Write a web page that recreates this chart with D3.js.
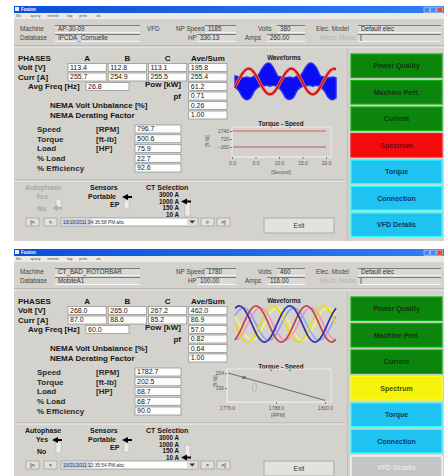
<!DOCTYPE html>
<html>
<head>
<meta charset="utf-8">
<script src="https://cdn.jsdelivr.net/npm/d3@7"></script>
<style>
  body { margin: 0; background: #fff; }
  svg { display: block; }
  text { font-family: "Liberation Sans", Arial, sans-serif; }
</style>
</head>
<body>
<div id="chart"></div>
<script>
// shared labels
const phaseCols = ["A", "B", "C", "Ave/Sum"];
const phaseRows = ["Volt [V]", "Curr [A]"];
const sumRows = ["Pow [kW]", "pf", "NEMA Volt Unbalance [%]", "NEMA Derating Factor"];
const motorRows = ["Speed", "Torque", "Load", "% Load", "% Efficiency"];
const motorUnits = ["[RPM]", "[ft-lb]", "[HP]", "", ""];
const buttonNames = ["Power Quality", "Machine Perf.", "Current", "Spectrum", "Torque", "Connection", "VFD Details"];
const ctOptions = ["3000 A", "1000 A", "150 A", "10 A"];
const menuItems = ["file", "query", "trends", "log", "print", "ok"];

// window 1 - VFD motor
const w1Header = ["AP-30-09", "IPCDA_Cornuelle", "1185", "330.13", "380", "260.00", "Default elec"];
const w1Volt = [113.4, 112.8, 113.1, 195.8];
const w1Curr = [255.7, 254.9, 255.5, 255.4];
const w1Freq = 26.8;
const w1Sum = [61.2, 0.71, 0.26, 1.00];
const w1Motor = [796.7, 500.6, 75.9, 22.7, 92.6];
const w1Buttons = ["green", "green", "green", "red", "cyan", "cyan", "cyan"];
const w1CurrHi = [0.3, 0.25, 0.2, 0.25, 0.2, 0.3, 0.35, 0.7, 0.95, 0.98, 0.7, 0.3, 0.25, 0.2, 0.25, 0.2, 0.3, 0.35, 0.7, 0.96, 0.97, 0.72, 0.3, 0.25, 0.2, 0.25, 0.2];
const w1CurrLo = [-0.3, -0.5, -0.85, -0.98, -0.88, -0.5, -0.3, -0.25, -0.2, -0.25, -0.2, -0.3, -0.5, -0.86, -0.97, -0.87, -0.48, -0.3, -0.25, -0.2, -0.25, -0.2, -0.3, -0.5, -0.85, -0.98, -0.88];
const w1VoltWave = [-0.29, 0.1, 0.46, 0.67, 0.67, 0.46, 0.1, -0.29, -0.59, -0.7, -0.59, -0.29, 0.1, 0.46, 0.67, 0.67, 0.46, 0.1, -0.29, -0.59, -0.7, -0.59, -0.29, 0.1, 0.46, 0.67, 0.67];
const w1TsTime = [0, 20];
const w1TsUpper = [1740, 1740];
const w1TsLower = [-300, -300];
const w1TsXTicks = [0, 5, 10, 15, 20];
const w1TsYTicks = [-300, 720, 1740];
const w1File = "10/10/2011 04:36:58 PM.abc";

// window 2 - broken rotor bar motor
const w2Header = ["CT_BAD_ROTORBAR", "MobileA1", "1780", "100.00", "460", "116.00", "Default elec"];
const w2Volt = [268.0, 265.0, 267.2, 462.0];
const w2Curr = [87.0, 88.6, 85.2, 86.9];
const w2Freq = 60.0;
const w2Sum = [57.0, 0.82, 0.64, 1.00];
const w2Motor = [1782.7, 202.5, 68.7, 68.7, 90.0];
const w2Buttons = ["green", "green", "green", "yellow", "cyan", "cyan", "gray"];
const w2VoltA = [-0.83, -0.48, 0, 0.48, 0.83, 0.95, 0.83, 0.48, 0, -0.48, -0.83, -0.95, -0.83, -0.48, 0, 0.48, 0.83, 0.95, 0.83, 0.48, 0, -0.48, -0.83, -0.95, -0.83];
const w2VoltB = [0, -0.48, -0.83, -0.95, -0.83, -0.48, 0, 0.48, 0.83, 0.95, 0.83, 0.48, 0, -0.48, -0.83, -0.95, -0.83, -0.48, 0, 0.48, 0.83, 0.95, 0.83, 0.48, 0];
const w2VoltC = [0.83, 0.95, 0.83, 0.48, 0, -0.48, -0.83, -0.95, -0.83, -0.48, 0, 0.48, 0.83, 0.95, 0.83, 0.48, 0, -0.48, -0.83, -0.95, -0.83, -0.48, 0, 0.48, 0.83];
const w2CurrA = [-0.85, -0.74, -0.43, 0, 0.43, 0.74, 0.85, 0.74, 0.43, 0, -0.43, -0.74, -0.85, -0.74, -0.43, 0, 0.43, 0.74, 0.85, 0.74, 0.43, 0, -0.43, -0.74, -0.85];
const w2CurrB = [0.43, 0, -0.43, -0.74, -0.85, -0.74, -0.43, 0, 0.43, 0.74, 0.85, 0.74, 0.43, 0, -0.43, -0.74, -0.85, -0.74, -0.43, 0, 0.43, 0.74, 0.85, 0.74, 0.43];
const w2CurrC = [0.43, 0.74, 0.85, 0.74, 0.43, 0, -0.43, -0.74, -0.85, -0.74, -0.43, 0, 0.43, 0.74, 0.85, 0.74, 0.43, 0, -0.43, -0.74, -0.85, -0.74, -0.43, 0, 0.43];
const w2TsRpm = [1776, 1800];
const w2TsTorque = [204.5, 178.5];
const w2TsMark = [1780.2, 200];
const w2TsOp = [1782.7, 191];
const w2TsXTicks = [1776, 1788, 1800];
const w2TsYTicks = [190, 204];
const w2File = "10/21/2011 12:35:54 PM.abc";

const buttonFill = { green: "#0b850b", red: "#f40c0c", cyan: "#1ec3f2", yellow: "#f6f20c", gray: "#c4c4c4" };
const buttonText = { green: "#0d3a0d", red: "#6a0a0a", cyan: "#0b3a66", yellow: "#4f4a08", gray: "#e6e6e6" };
const bg = "#d4d2cc";

const svg = d3.select("#chart").append("svg").attr("width", 448).attr("height", 476);
svg.append("rect").attr("width", 448).attr("height", 476).attr("fill", "#fff");

function txt(g, x, y, s, o = {}) {
  return g.append("text").attr("x", x).attr("y", y).attr("dy", "0.35em")
    .attr("font-size", o.size || 7)
    .attr("font-weight", o.bold === false ? "normal" : "bold")
    .attr("fill", o.color || "#161616")
    .attr("text-anchor", o.anchor || "start")
    .text(s);
}

function box(g, x, y, w, s) {
  g.append("rect").attr("x", x).attr("y", y - 4).attr("width", w).attr("height", 8)
    .attr("fill", "#fdfdfd").attr("stroke", "#8a8a8a").attr("stroke-width", 0.7);
  txt(g, x + 2, y, s, { bold: false, size: 7 });
}

function field(g, x, y, w, s) {
  g.append("rect").attr("x", x).attr("y", y - 3.5).attr("width", w).attr("height", 7).attr("fill", "#d9d8d4");
  g.append("line").attr("x1", x).attr("x2", x + w).attr("y1", y - 3.5).attr("y2", y - 3.5).attr("stroke", "#7b7b7b").attr("stroke-width", 1);
  g.append("line").attr("x1", x).attr("x2", x + w).attr("y1", y + 3.5).attr("y2", y + 3.5).attr("stroke", "#f4f4f4").attr("stroke-width", 1);
  if (s) txt(g, x + 3, y, s, { bold: false, size: 6.3, color: "#333" });
}

function arrow(g, x, y, color) {
  g.append("path").attr("d", `M${x},${y} L${x + 6},${y - 3} L${x + 6},${y + 3} Z`).attr("fill", color);
  g.append("rect").attr("x", x + 6).attr("y", y - 1).attr("width", 4).attr("height", 2).attr("fill", color);
}

function navButton(g, x, y, w, h, s) {
  g.append("rect").attr("x", x).attr("y", y).attr("width", w).attr("height", h)
    .attr("fill", "#e2e1dc").attr("stroke", "#9a9a9a").attr("stroke-width", 0.7);
  txt(g, x + w / 2, y + h / 2, s, { size: 5, anchor: "middle", color: "#444" });
}

function drawWindow(oy, d) {
  const g = svg.append("g").attr("transform", `translate(0,${oy})`);

  // frame, title bar, menu
  g.append("rect").attr("x", 14).attr("y", 6).attr("width", 430).attr("height", 235).attr("fill", bg);
  const grad = svg.append("defs").append("linearGradient").attr("id", "tb" + oy);
  grad.append("stop").attr("offset", "0%").attr("stop-color", "#0a4fd8");
  grad.append("stop").attr("offset", "100%").attr("stop-color", "#2f7ff2");
  g.append("rect").attr("x", 14).attr("y", 6).attr("width", 430).attr("height", 7).attr("fill", `url(#tb${oy})`);
  g.append("rect").attr("x", 15).attr("y", 7).attr("width", 4).attr("height", 4).attr("fill", "#e8f0ff");
  txt(g, 21, 9.5, "Fusion", { size: 4.5, color: "#fff" });
  ["#4d86f0", "#4d86f0", "#e0502c"].forEach((c, i) => {
    g.append("rect").attr("x", 424 + i * 6.5).attr("y", 7).attr("width", 5.5).attr("height", 5.5)
      .attr("fill", c).attr("stroke", "#dfe8ff").attr("stroke-width", 0.5);
  });
  g.append("rect").attr("x", 14).attr("y", 13).attr("width", 430).attr("height", 6).attr("fill", "#ebeae6");
  let mx = 16;
  menuItems.forEach(m => { txt(g, mx, 16, m, { size: 4, bold: false, color: "#555" }); mx += m.length * 2.4 + 5; });

  // header fields
  const h = d.header;
  const hl = { size: 6.3, bold: false, color: "#444" };
  txt(g, 20, 29, "Machine", hl);
  field(g, 55, 29, 85, h[0]);
  txt(g, 20, 38, "Database", hl);
  field(g, 55, 38, 85, h[1]);
  if (d.vfd) txt(g, 147, 29, "VFD", hl);
  txt(g, 176, 29, "NP Speed", hl);
  field(g, 205, 29, 31, h[2]);
  txt(g, 188, 38, "HP", hl);
  field(g, 197, 38, 39, h[3]);
  txt(g, 258, 29, "Volts", hl);
  field(g, 277, 29, 28, h[4]);
  txt(g, 245, 38, "Amps", hl);
  field(g, 267, 38, 38, h[5]);
  txt(g, 316, 29, "Elec. Model", hl);
  field(g, 358, 29, 83, h[6]);
  txt(g, 320, 38, "Mech. Model", { size: 6.3, bold: false, color: "#b4b4b4" });
  field(g, 358, 38, 83, "");
  g.append("line").attr("x1", 361).attr("x2", 361).attr("y1", 35).attr("y2", 41).attr("stroke", "#333").attr("stroke-width", 0.7);
  g.append("line").attr("x1", 14).attr("x2", 444).attr("y1", 46).attr("y2", 46).attr("stroke", "#9c9c9c");
  g.append("line").attr("x1", 14).attr("x2", 444).attr("y1", 47).attr("y2", 47).attr("stroke", "#f2f2f2");

  // phase table
  const xCol = d3.scaleBand().domain(phaseCols).range([68, 227]).paddingInner(0.05);
  const yRow = d3.scaleLinear().domain([0, 5]).range([67.5, 115]);
  txt(g, 18, 58, "PHASES", { size: 8 });
  phaseCols.forEach(c => txt(g, xCol(c) + xCol.bandwidth() / 2, 58, c, { size: 8, anchor: "middle" }));
  [d.volt, d.curr].forEach((vals, r) => {
    txt(g, 18, yRow(r), phaseRows[r], { size: 8 });
    vals.forEach((v, i) => box(g, xCol(phaseCols[i]), yRow(r), xCol.bandwidth(), v.toFixed(1)));
  });
  txt(g, 28, yRow(2), "Avg Freq [Hz]", { size: 8 });
  box(g, 86, yRow(2), 43, d.freq.toFixed(1));
  const sumFmt = [".1f", ".2f", ".2f", ".2f"];
  d.sum.forEach((v, i) => {
    const y = yRow(i + 2);
    if (i < 2) txt(g, 181, i === 0 ? y - 2 : y, sumRows[i], { size: 8, anchor: "end" });
    else txt(g, 50, y, sumRows[i], { size: 8 });
    box(g, xCol("Ave/Sum"), y, xCol.bandwidth(), d3.format(sumFmt[i])(v));
  });

  // motor rows
  const yMot = d3.scaleLinear().domain([0, 4]).range([129, 168]);
  d.motor.forEach((v, i) => {
    txt(g, 37, yMot(i), motorRows[i], { size: 8, color: "#2a2a2a" });
    if (motorUnits[i]) txt(g, 96, yMot(i), motorUnits[i], { size: 8, color: "#2a2a2a" });
    box(g, 135, yMot(i), 46, v.toFixed(1));
  });

  g.append("line").attr("x1", 14).attr("x2", 345).attr("y1", 180).attr("y2", 180).attr("stroke", "#a8a8a8");
  g.append("line").attr("x1", 14).attr("x2", 345).attr("y1", 181).attr("y2", 181).attr("stroke", "#efefef");

  // autophase / sensors / CT selection
  const apCol = d.autophase ? "#161616" : "#a8a8a8";
  txt(g, 25, 188, "Autophase", { size: 7, color: apCol });
  txt(g, 36, 197, "Yes", { size: 7, color: apCol });
  txt(g, 37, 209, "No", { size: 7, color: apCol });
  g.append("rect").attr("x", 56).attr("y", 199).attr("width", 5).attr("height", 11).attr("fill", "#ebebeb").attr("stroke", "#b0b0b0").attr("stroke-width", 0.5);
  arrow(g, 52, d.autophase ? 197 : 208, d.autophase ? "#000" : "#b0b0b0");
  txt(g, 90, 188, "Sensors", { size: 7 });
  txt(g, 88, 197, "Portable", { size: 7 });
  txt(g, 110, 205, "EP", { size: 7 });
  g.append("rect").attr("x", 124).attr("y", 200).attr("width", 5).attr("height", 9).attr("fill", "#ebebeb").attr("stroke", "#b0b0b0").attr("stroke-width", 0.5);
  arrow(g, 122, 197, "#000");
  txt(g, 146, 188, "CT Selection", { size: 7 });
  const yCt = d3.scaleLinear().domain([0, 3]).range([195, 214.5]);
  ctOptions.forEach((c, i) => txt(g, 179, yCt(i), c, { size: 6.3, anchor: "end" }));
  g.append("rect").attr("x", 185).attr("y", 202).attr("width", 5).attr("height", 14).attr("fill", "#ebebeb").attr("stroke", "#b0b0b0").attr("stroke-width", 0.5);
  arrow(g, 181, yCt(d.ct), "#000");

  // bottom bar
  navButton(g, 26, 218, 13, 8, "|<");
  navButton(g, 44, 218, 13, 8, "<");
  g.append("rect").attr("x", 61).attr("y", 218).attr("width", 137).attr("height", 8).attr("fill", "#fff").attr("stroke", "#8a8a8a").attr("stroke-width", 0.7);
  g.append("rect").attr("x", 61.5).attr("y", 218.5).attr("width", 30).attr("height", 7).attr("fill", "#c9d4ea");
  txt(g, 63, 222, d.file, { size: 4.8, bold: false, color: "#333" });
  g.append("rect").attr("x", 187).attr("y", 218.5).attr("width", 10.5).attr("height", 7).attr("fill", "#dcdcdc");
  g.append("path").attr("d", "M189.5,220.5 L195,220.5 L192.2,223.5 Z").attr("fill", "#333");
  navButton(g, 201, 218, 13, 8, ">");
  navButton(g, 217, 218, 13, 8, ">|");
  g.append("rect").attr("x", 264).attr("y", 218).attr("width", 70).attr("height", 15)
    .attr("fill", "#e3e2dd").attr("stroke", "#a0a0a0").attr("stroke-width", 0.8);
  txt(g, 299, 225.5, "Exit", { size: 6.5, anchor: "middle", bold: false, color: "#333" });

  // waveforms
  txt(g, 284, 58, "Waveforms", { size: 6.3, anchor: "middle", color: "#222" });
  d.wave(g);

  // torque - speed
  txt(g, 281, 124, "Torque - Speed", { size: 6.3, anchor: "middle", color: "#222" });
  d.torque(g);

  // buttons
  g.append("line").attr("x1", 347.5).attr("x2", 347.5).attr("y1", 48).attr("y2", 241).attr("stroke", "#f0a8a8");
  const yBtn = d3.scaleLinear().domain([0, 6]).range([54, 213]);
  d.buttons.forEach((c, i) => {
    g.append("rect").attr("x", 351).attr("y", yBtn(i)).attr("width", 91).attr("height", 23.5)
      .attr("fill", buttonFill[c]).attr("stroke", d3.color(buttonFill[c]).brighter(0.8)).attr("stroke-width", 1.2);
    txt(g, 396.5, yBtn(i) + 11.75, buttonNames[i], { size: 7, anchor: "middle", color: buttonText[c] });
  });
}

function styleAxis(sel) {
  sel.selectAll("text").attr("font-size", 5).attr("fill", "#555").attr("font-family", "Liberation Sans, Arial");
  sel.selectAll("line").attr("stroke", "#777");
  sel.select(".domain").attr("stroke", "#e8e8e8");
}

// window 1 plots
function wave1(g) {
  const x = d3.scaleLinear().domain([0, w1VoltWave.length - 1]).range([235, 336]);
  const y = d3.scaleLinear().domain([-1, 1]).range([100, 63]);
  const area = d3.area().x((v, i) => x(i)).y0((v, i) => y(w1CurrLo[i])).y1((v, i) => y(w1CurrHi[i])).curve(d3.curveCardinal);
  g.append("path").datum(w1CurrHi).attr("d", area).attr("fill", "#0a0cf5").attr("stroke", "#2a30f0").attr("stroke-width", 1.5);
  const line = d3.line().x((v, i) => x(i)).y(v => y(v)).curve(d3.curveCardinal);
  g.append("path").datum(w1VoltWave).attr("d", line).attr("fill", "none").attr("stroke", "#f06a6a").attr("stroke-width", 3.2);
  g.append("path").datum(w1VoltWave).attr("d", line).attr("fill", "none").attr("stroke", "#c80e0e").attr("stroke-width", 1.6);
}

function torque1(g) {
  const x = d3.scaleLinear().domain([0, 20]).range([232, 326]);
  const y = d3.scaleLinear().domain([-300, 1740]).range([147, 131]);
  g.append("rect").attr("x", 232).attr("y", 127).attr("width", 99).attr("height", 30).attr("fill", "none").attr("stroke", "#ececec");
  const line = d3.line().x((v, i) => x(w1TsTime[i])).y(v => y(v));
  g.append("path").datum(w1TsUpper).attr("d", line).attr("stroke", "#e84848").attr("stroke-width", 0.9).attr("fill", "none");
  g.append("path").datum(w1TsLower).attr("d", line).attr("stroke", "#b85050").attr("stroke-width", 0.9).attr("fill", "none");
  g.append("g").attr("transform", "translate(0,157)")
    .call(d3.axisBottom(x).tickValues(w1TsXTicks).tickFormat(d3.format(".1f")).tickSize(2).tickPadding(2)).call(styleAxis);
  g.append("g").attr("transform", "translate(232,0)")
    .call(d3.axisLeft(y).tickValues(w1TsYTicks).tickFormat(d3.format("d")).tickSize(2).tickPadding(1)).call(styleAxis);
  txt(g, 281, 172, "[Second]", { size: 5, anchor: "middle", bold: false, color: "#555" });
  txt(g, 0, 0, "[ft-lb]", { size: 5, anchor: "middle", bold: false, color: "#555" }).attr("transform", "translate(207,141) rotate(-90)");
}

// window 2 plots
function wave2(g) {
  const x = d3.scaleLinear().domain([0, w2VoltA.length - 1]).range([235, 336]);
  const y = d3.scaleLinear().domain([-1, 1]).range([100, 62]);
  [250, 270, 290, 310, 330].forEach(v => g.append("line").attr("x1", v).attr("x2", v).attr("y1", 62).attr("y2", 100).attr("stroke", "#dedede").attr("stroke-width", 0.6));
  const line = d3.line().x((v, i) => x(i)).y(v => y(v)).curve(d3.curveCardinal);
  const series = [
    [w2CurrB, "#f4f080"], [w2CurrA, "#f890c8"], [w2CurrC, "#8aa8f0"],
    [w2VoltB, "#e8d820"], [w2VoltA, "#b84848"], [w2VoltC, "#3a2aa8"]
  ];
  series.forEach(([vals, c]) => {
    g.append("path").datum(vals).attr("d", line).attr("fill", "none").attr("stroke", c).attr("stroke-width", 1.7);
  });
}

function torque2(g) {
  const x = d3.scaleLinear().domain([1776, 1800]).range([227, 325]);
  const y = d3.scaleLinear().domain([176, 208]).range([160, 126]);
  g.append("rect").attr("x", 227).attr("y", 126).attr("width", 104).attr("height", 33).attr("fill", "none").attr("stroke", "#ececec");
  const line = d3.line().x((v, i) => x(w2TsRpm[i])).y(v => y(v));
  g.append("path").datum(w2TsTorque).attr("d", line).attr("stroke", "#6a6a6a").attr("stroke-width", 1).attr("fill", "none");
  const mx = x(w2TsMark[0]), my = y(w2TsMark[1]);
  g.append("path").attr("d", `M${mx - 1.5},${my - 1.5} L${mx + 1.5},${my + 1.5} M${mx - 1.5},${my + 1.5} L${mx + 1.5},${my - 1.5}`).attr("stroke", "#333").attr("stroke-width", 0.8);
  g.append("ellipse").attr("cx", x(w2TsOp[0])).attr("cy", y(w2TsOp[1])).attr("rx", 2).attr("ry", 4.5)
    .attr("fill", "none").attr("stroke", "#777").attr("stroke-width", 0.6).attr("stroke-dasharray", "1,1");
  g.append("g").attr("transform", "translate(0,159)")
    .call(d3.axisBottom(x).tickValues(w2TsXTicks).tickFormat(d3.format(".1f")).tickSize(2).tickPadding(2)).call(styleAxis);
  g.append("g").attr("transform", "translate(227,0)")
    .call(d3.axisLeft(y).tickValues(w2TsYTicks).tickFormat(d3.format("d")).tickSize(2).tickPadding(1)).call(styleAxis);
  txt(g, 278, 172, "[RPM]", { size: 5, anchor: "middle", bold: false, color: "#555" });
  txt(g, 0, 0, "[ft-lb]", { size: 5, anchor: "middle", bold: false, color: "#555" }).attr("transform", "translate(215,138) rotate(-90)");
}

drawWindow(0, {
  header: w1Header, vfd: true, volt: w1Volt, curr: w1Curr, freq: w1Freq, sum: w1Sum, motor: w1Motor,
  buttons: w1Buttons, autophase: false, ct: 1, file: w1File, wave: wave1, torque: torque1
});
drawWindow(243, {
  header: w2Header, vfd: false, volt: w2Volt, curr: w2Curr, freq: w2Freq, sum: w2Sum, motor: w2Motor,
  buttons: w2Buttons, autophase: true, ct: 3, file: w2File, wave: wave2, torque: torque2
});
</script>
</body>
</html>
